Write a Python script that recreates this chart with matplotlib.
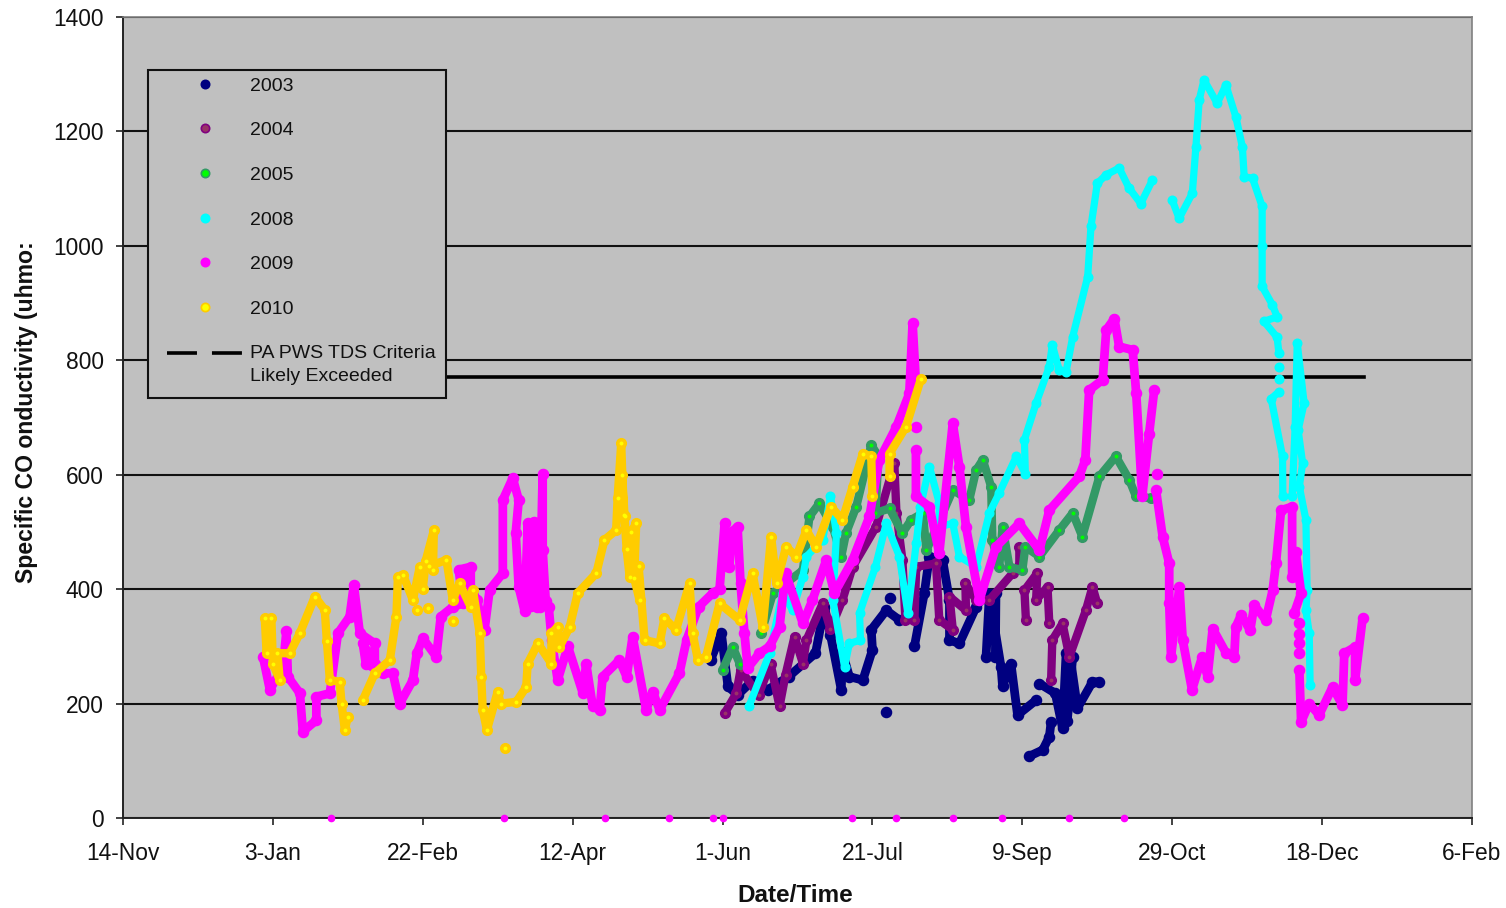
import numpy as np
import matplotlib
matplotlib.use("Agg")
import matplotlib.pyplot as plt
from matplotlib.lines import Line2D
from matplotlib.patches import Rectangle

plt.rcParams['font.family'] = ['Liberation Sans', 'DejaVu Sans']
n = np.nan

tick_days = [0, 50, 100, 150, 200, 250, 300, 350, 400, 450]
tick_labels = ['14-Nov', '3-Jan', '22-Feb', '12-Apr', '1-Jun', '21-Jul', '9-Sep', '29-Oct', '18-Dec', '6-Feb']
y_ticks = [0, 200, 400, 600, 800, 1000, 1200, 1400]

d2003 = [196,199.6,201.8,205,210,215,222,231,234,236,239.6,240,242.3,246.8,250,249.6,254.6,259,n,256,n,254.6,n,
         264,267.3,269,273.4,275.7,275.7,279,284.6,287.9,291.2,291,287.9,289,292.9,293.4,296.2,298.4,304.6,n,
         302.3,306.8,309,309.6,n,305.7,311,313.4,314.6,316.8,315,316,318.4,323.4,325.7]
v2003 = [276,323,230,215,240,224,247,288,369,320,224,290,247,241,294,329,363,346,n,385,n,186,n,
         300,393,457,451,381,311,305,369,393,393,282,282,390,264,230,270,180,206,n,
         108,119,142,168,n,235,218,157,288,282,170,280,192,238,238]

d2004 = [200.7,204.6,206,212,216,219,221,224,226.8,228,233.4,236,240,243.4,251.2,257.3,258,260,261,264,264.6,271.2,272.3,276.8,275.7,281.2,281,284.6,289,296.8,n,
         299,299,n,301.2,300.7,305,304.6,308.4,309,n,309.6,310,313.4,315.7,321.2,323.4,325]
v2004 = [183,218,259,215,270,195,250,317,270,311,375,330,381,439,509,620,533,451,346,346,439,445,346,329,387,363,410,381,381,428,n,
         474,440,n,346,398,428,381,404,340,n,241,311,340,282,363,404,375]

d2005 = [200,203.4,205.7,n,212.9,216.8,226.8,229,232.3,236.8,239.6,241.2,244.6,249.6,252,251,255.7,260,262.9,266.8,268,276.8,282.3,284.6,286.8,289.6,290,292.3,293.4,295.7,300,301,305.7,312.3,316.8,320,325.7,331.2,335.7,337.9,342.9]
v2005 = [259,299,270,n,323,393,433,527,550,509,457,498,544,652,632,533,541,498,521,533,468,573,556,608,626,579,486,439,509,439,433,474,457,503,533,492,597,632,591,562,559]

d2008 = [208.8,215.7,220,223.4,226.8,228,233.4,236,238,236.8,240.7,242.3,246,245.7,251,254.6,259,261.8,264.6,266,269,272.3,272.3,276.8,279,284.6,289,292.3,298,301,300.7,304.6,309,310,312.3,314.6,316.8,321.8,322.9,325,327.9,332.3,335.6,339.5,343.4,n,
         350,352.3,356.7,357.9,359,360.6,365,367.9,371.2,373.4,374,376.8,380,380,380,383.4,385,380.6,385,385.6,n,385.6,n,385.6,n,385.6,383,386.8,386.9,n,
         390,391,391.7,394,392,393.5,392.4,394.6,395,394.6,395.7,396]
v2008 = [195,288,393,363,422,457,486,562,498,381,264,305,311,358,439,515,457,358,480,544,614,550,509,515,457,439,533,568,632,602,661,725,789,827,783,780,841,946,1034,1109,1124,1136,1101,1074,1115,n,
         1080,1048,1092,1173,1255,1290,1249,1281,1226,1173,1121,1118,1069,999,929,897,876,868,840,812,n,789,n,768,n,745,733,632,562,n,
         562,684,830,725,678,620,579,521,398,363,323,232]

d2009 = [46.7,49,53.4,54.5,55,59,60,64.5,64.5,69,71.7,75.6,77,79,84,84,80,81,86.7,90,92.3,96.7,98,100,104.5,106,110,113.4,112,116,116,112,114,118,120.6,122.3,126.7,126.7,130,132,131,132,134,135,136,137,138,138.5,139,140,140,141,142,143,145,148.4,153.4,154.5,156.7,159,160,165.6,168,170,174.5,176.7,179,185.6,188,192,196.7,199,200.7,201.5,202.3,203,205,206,207.3,208.4,212.3,215.7,219,221,226.8,230,234.6,237.3,243.4,249,252.3,258,262.3,263.4,264.5,n,264.5,n,264.5,264.5,269,272.3,276.8,279,281.2,285.7,291.2,299,305.7,309,319,321,322.3,326.8,328,330.7,332.3,336.8,338,340,342.3,344,n,345,n,344.6,346.8,349,349,349.6,352.4,353.5,356.6,360,361.8,363.5,368,370.7,371.2,373,376,377.4,381.2,383.5,384.6,386.3,390,390,391.2,393,390.7,n,392.4,n,392.4,n,392.4,n,392.4,n,392.4,393,395.7,399,403.5,406.8,407.4,411,411,413.5]
v2009 = [282,224,265,326,247,218,151,171,212,218,323,352,407,323,305,270,305,270,253,253,200,241,288,314,282,352,369,375,434,439,380,380,430,381,329,399,428,556,594,556,498,404,361,515,370,518,369,515,369,602,468,380,369,311,241,300,218,270,195,189,247,276,247,317,189,221,189,253,311,369,393,400,515,440,439,500,509,410,323,262,288,300,334,428,340,381,451,393,451,527,626,684,742,865,760,n,684,n,643,562,544,463,690,614,509,381,474,515,468,538,597,626,748,766,853,873,824,818,742,562,672,748,n,602,n,573,492,445,375,282,404,311,224,282,247,331,288,282,334,355,328,372,346,398,445,538,544,422,465,393,358,n,340,n,322,n,305,n,288,n,259,168,200,180,229,197,288,299,241,349]

d2009_zero = [69.3,127,160.7,182,196.7,200.3,243.3,258,277,293.3,315.7,334]
v2009_zero = [0,0,0,0,0,0,0,0,0,0,0,0]

d2010 = [47.3,47.9,49.5,50,52.3,51.5,55.6,59,64,67.3,68,69,72.3,72.9,74,75,n,80,84,89,91.2,91.7,93.4,96.7,99,100,101,103.7,103.4,102,107.9,110,112.3,116,116.7,119,119.5,120,121.4,125,126,131.2,134.5,135,138.4,142.9,142.9,145,145.6,149,151.7,157.9,160.6,164.5,165,166.2,167,166.5,167.3,168,169,169.5,171.2,170.5,172.3,172,174,179,180.6,184.5,189,190,191.8,194.5,199,205.7,210,213.4,216.2,218,221.2,224.6,228,231.2,236.2,240,243.4,246.8,249.6,250,n,255.7,255.7,261.2,266.2,n,98.2,n,101.8,n,110,n,127.3]
v2010 = [349,288,349,270,241,288,288,323,387,364,310,241,238,200,154,177,n,206,253,276,352,422,425,381,439,400,450,503,433,440,451,381,410,369,399,323,247,189,154,221,200,203,229,270,305,270,323,334,299,334,393,428,486,503,560,655,530,600,527,470,422,500,515,420,381,440,311,305,349,329,410,323,276,282,375,346,428,334,492,410,474,457,503,474,544,521,579,637,632,562,n,597,637,684,768,n,364,n,367,n,345,n,122]

criteria_days = [50, 414]
criteria_vals = [770, 770]

series = [
    ('2003', d2003, v2003, '#000080', '#000080', 6.3),
    ('2004', d2004, v2004, '#800080', '#993366', 6.0),
    ('2005', d2005, v2005, '#339966', '#00FF00', 6.0),
    ('2008', d2008, v2008, '#00FFFF', '#00FFFF', 5.2),
    ('2009', d2009, v2009, '#FF00FF', '#FF00FF', 6.3),
    ('2010', d2010, v2010, '#FFCC00', '#FFFF00', 6.0),
]

fig = plt.figure(figsize=(15.06, 9.08), dpi=100, facecolor='white')
ax = fig.add_axes([123/1506, (908-818)/908, (1472-123)/1506, (818-17)/908], facecolor='#C0C0C0')
ax.set_xlim(0, 450)
ax.set_ylim(0, 1400)
ax.set_axisbelow(True)
ax.yaxis.grid(True, color='#111111', lw=1.5)
ax.xaxis.grid(False)

ax.plot(criteria_days, criteria_vals, color='black', lw=2.6, zorder=2.5)
handles = []
for name, x, y, col, core, width in series:
    ax.plot(x, y, color=col, lw=width, marker='o', ms=width + 1, mec=col, mfc=col,
            solid_joinstyle='round', solid_capstyle='round', zorder=3)
    ax.plot(x, y, ls='none', marker='o', ms=1.8, mec=core, mfc=core, zorder=3)
    handles.append(Line2D([], [], ls='none', marker='o', ms=6, mew=1.2, mec=col, mfc=core, label=name))
ax.plot(d2009_zero, v2009_zero, ls='none', marker='o', ms=4.5, color='#FF00FF', clip_on=False, zorder=4)
handles.append(Line2D([], [], color='black', lw=2.6, ls=(0, (8.3, 4.15)), dash_capstyle='butt',
                      label='PA PWS TDS Criteria\nLikely Exceeded'))

for s in ['top', 'right']:
    ax.spines[s].set_color('#808080')
    ax.spines[s].set_linewidth(1.2)
for s in ['left', 'bottom']:
    ax.spines[s].set_color('#222222')
    ax.spines[s].set_linewidth(1.4)
ax.set_xticks(tick_days)
ax.set_xticklabels(tick_labels)
ax.set_yticks(y_ticks)
ax.tick_params(axis='both', labelsize=16.4, length=5, width=1.2, color='#222222', labelcolor='#111111', pad=9)
ax.tick_params(axis='x', pad=12)

fig.text(795/1506, 1-896/908, 'Date/Time', fontsize=17.5, fontweight='bold', ha='center', va='center', color='#111111')
fig.text(27/1506, 1-412/908, 'Specific CO onductivity (uhmo:', fontsize=16.6, fontweight='bold', rotation=90,
         ha='center', va='center', color='#111111')

ax.add_patch(Rectangle(((148-123)/1349, (818-398)/801), 298/1349, 328/801, transform=ax.transAxes,
                       facecolor='#C0C0C0', edgecolor='#111111', lw=1.5, zorder=9))
leg = ax.legend(handles=handles, loc='upper left', bbox_to_anchor=((167-123)/1349, (818-77)/801),
                bbox_transform=ax.transAxes, borderaxespad=0, fontsize=14, frameon=False,
                handlelength=3.87, handletextpad=0.41, labelspacing=1.39, borderpad=0, labelcolor='#111111')
leg.set_zorder(10)
leg.get_texts()[-1].set_linespacing(1.45)
crit = leg.legend_handles[-1]
crit.set_ydata(np.asarray(crit.get_ydata()) + 8.6)

fig.savefig('out.png', dpi=100, facecolor='white')
